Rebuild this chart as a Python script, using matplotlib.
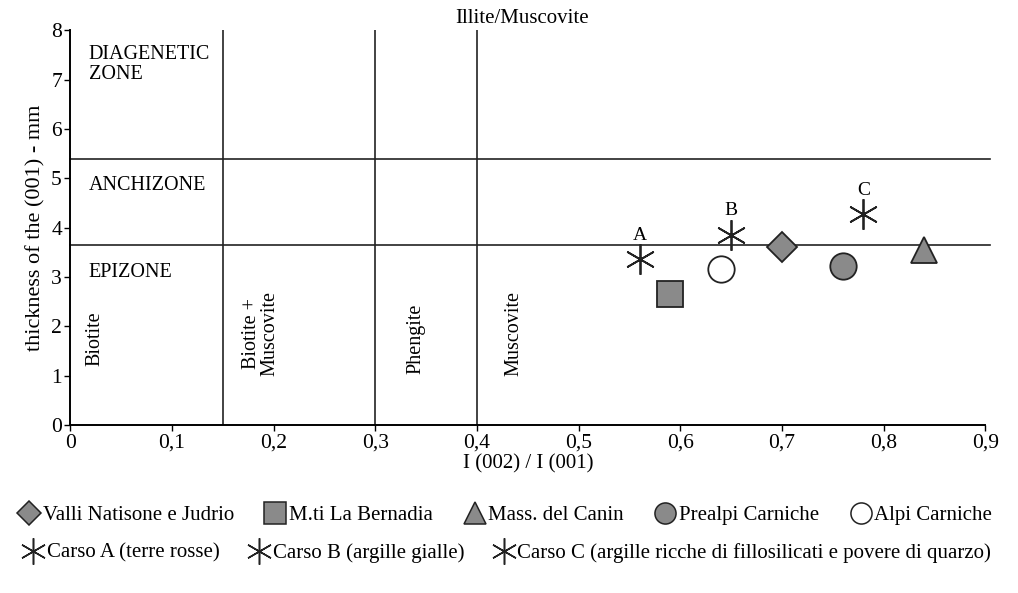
import matplotlib.pyplot as plt
from matplotlib.lines import Line2D

plt.rcParams["font.family"] = ["Liberation Serif", "DejaVu Serif"]

# Zone boundaries and mineral field boundaries
zone_limits = [5.4, 3.65]
field_limits = [0.15, 0.3, 0.4]

# Samples: (label, x, y, marker, face colour)
groups = ["Valli Natisone e Judrio", "M.ti La Bernadia", "Mass. del Canin",
          "Prealpi Carniche", "Alpi Carniche"]
group_x = [0.70, 0.59, 0.84, 0.76, 0.64]
group_y = [3.60, 2.65, 3.55, 3.22, 3.17]
group_marker = ["D", "s", "^", "o", "o"]
group_face = ["#8a8a8a", "#8a8a8a", "#8a8a8a", "#8a8a8a", "white"]
group_size = [15, 19, 19, 19, 19]

carso = ["Carso A (terre rosse)", "Carso B (argille gialle)",
         "Carso C (argille ricche di fillosilicati e povere di quarzo)"]
carso_letter = ["A", "B", "C"]
carso_x = [0.56, 0.65, 0.78]
carso_y = [3.36, 3.86, 4.28]

xticks = [0, 0.1, 0.2, 0.3, 0.4, 0.5, 0.6, 0.7, 0.8, 0.9]
xtick_labels = ["0", "0,1", "0,2", "0,3", "0,4", "0,5", "0,6", "0,7", "0,8", "0,9"]

star = (6, 2, 0)
fs = 14.5

fig = plt.figure(figsize=(10.18, 5.93), dpi=100, facecolor="white")
ax = fig.add_axes([0.069, 0.283, 0.899, 0.666])

for yv in zone_limits:
    ax.axhline(yv, color="#222222", linewidth=1.2, xmax=1.005, clip_on=False)
for xv in field_limits:
    ax.axvline(xv, color="#222222", linewidth=1.2)

handles = []
for lab, x, y, m, fc, ms in zip(groups, group_x, group_y, group_marker, group_face, group_size):
    ax.plot(x, y, marker=m, markersize=ms, markerfacecolor=fc,
            markeredgecolor="#222222", markeredgewidth=1.3, linestyle="none", zorder=3)
    handles.append(Line2D([], [], marker=m, markersize=ms * 0.8, markerfacecolor=fc,
                          markeredgecolor="#222222", markeredgewidth=1.1, linestyle="none"))

star_handles = []
for lab, letter, x, y in zip(carso, carso_letter, carso_x, carso_y):
    ax.plot(x, y, marker=star, markersize=22, markeredgecolor="#222222",
            markeredgewidth=1.3, linestyle="none", zorder=3)
    ax.annotate(letter, (x, y), xytext=(0, 11), textcoords="offset points",
                ha="center", va="bottom", fontsize=14)
    star_handles.append(Line2D([], [], marker=star, markersize=19, markeredgecolor="#222222",
                               markeredgewidth=1.1, linestyle="none"))

# Zone and field labels
ax.text(0.018, 7.3, "DIAGENETIC\nZONE", fontsize=fs, va="center", linespacing=1.05)
ax.text(0.018, 4.85, "ANCHIZONE", fontsize=fs, va="center")
ax.text(0.018, 3.1, "EPIZONE", fontsize=fs, va="center")
ax.text(0.024, 1.75, "Biotite", rotation=90, fontsize=fs, ha="center", va="center")
ax.text(0.187, 1.85, "Biotite +\nMuscovite", rotation=90, fontsize=fs,
        ha="center", va="center", linespacing=0.95)
ax.text(0.34, 1.75, "Phengite", rotation=90, fontsize=fs, ha="center", va="center")
ax.text(0.436, 1.85, "Muscovite", rotation=90, fontsize=fs, ha="center", va="center")
ax.text(0.444, 8.05, "Illite/Muscovite", fontsize=15, ha="center", va="bottom")

ax.set_xlim(0, 0.9)
ax.set_ylim(0, 8)
ax.set_xticks(xticks)
ax.set_xticklabels(xtick_labels)
ax.set_yticks(range(0, 9))
ax.tick_params(labelsize=15.5, direction="out", length=4, width=1, pad=2)
for s in ["top", "right"]:
    ax.spines[s].set_visible(False)
for s in ["left", "bottom"]:
    ax.spines[s].set_linewidth(1.4)
ax.set_xlabel("I (002) / I (001)", fontsize=15, labelpad=1)
ax.set_ylabel("thickness of the (001) - mm", fontsize=16, labelpad=4)

fig.legend(handles, groups, loc="upper left", bbox_to_anchor=(0.006, 0.165), ncol=5,
           frameon=False, fontsize=15, handletextpad=0.05, columnspacing=1.4,
           handlelength=1.2, borderpad=0)
fig.legend(star_handles, carso, loc="upper left", bbox_to_anchor=(0.01, 0.102), ncol=3,
           frameon=False, fontsize=15, handletextpad=0.05, columnspacing=1.3,
           handlelength=1.2, borderpad=0)

fig.savefig("out.png", dpi=100, facecolor="white")
